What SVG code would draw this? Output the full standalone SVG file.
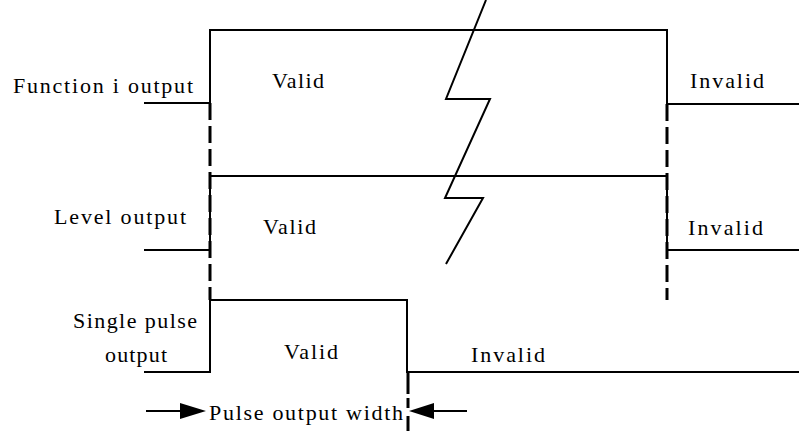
<svg xmlns="http://www.w3.org/2000/svg" width="799" height="431" viewBox="0 0 799 431">
<style>
.w{fill:none;stroke:#000;stroke-width:2;stroke-linejoin:miter}
.d{fill:none;stroke:#000;stroke-width:3;stroke-dasharray:17 6}
.t{font-family:"Liberation Serif","Times New Roman",serif;font-size:22px;fill:#000}
</style>
<rect width="799" height="431" fill="#fff"/>
<g id="function-output">
<polyline class="w" points="144,103 210,103 210,30 667,30 667,104 799,104"/>
<text class="t" x="13" y="93" textLength="180" lengthAdjust="spacing">Function i output</text>
<text class="t" x="272" y="88" textLength="52" lengthAdjust="spacing">Valid</text>
<text class="t" x="690" y="88" textLength="74" lengthAdjust="spacing">Invalid</text>
</g>
<g id="level-output">
<polyline class="w" points="144,250 210,250 210,176 667,176 667,250 799,250"/>
<text class="t" x="54" y="224" textLength="132" lengthAdjust="spacing">Level output</text>
<text class="t" x="263" y="234" textLength="53" lengthAdjust="spacing">Valid</text>
<text class="t" x="688" y="235" textLength="75" lengthAdjust="spacing">Invalid</text>
</g>
<g id="single-pulse-output">
<polyline class="w" points="144,372 210,372 210,300 407,300 407,372 799,372"/>
<text class="t" x="73" y="328" textLength="124" lengthAdjust="spacing">Single pulse</text>
<text class="t" x="105" y="362" textLength="62" lengthAdjust="spacing">output</text>
<text class="t" x="284" y="359" textLength="54" lengthAdjust="spacing">Valid</text>
<text class="t" x="471" y="362" textLength="74" lengthAdjust="spacing">Invalid</text>
</g>
<g id="break-mark">
<polyline class="w" points="486,0 446,99 490,99 445,198 483,198 446,264"/>
</g>
<g id="connectors">
<line class="d" x1="210" y1="103" x2="210" y2="300"/>
<line class="d" x1="667" y1="104" x2="667" y2="300"/>
<line class="d" x1="408" y1="372" x2="408" y2="431" style="stroke-dasharray:22 4 10 8"/>
<line class="w" x1="146" y1="411" x2="182" y2="411"/>
<polygon points="180,403 206,411 180,419" fill="#000"/>
<line class="w" x1="432" y1="411" x2="467" y2="411"/>
<polygon points="434,403 409,411 434,419" fill="#000"/>
<text class="t" x="209" y="420" textLength="194" lengthAdjust="spacing">Pulse output width</text>
</g>
</svg>
